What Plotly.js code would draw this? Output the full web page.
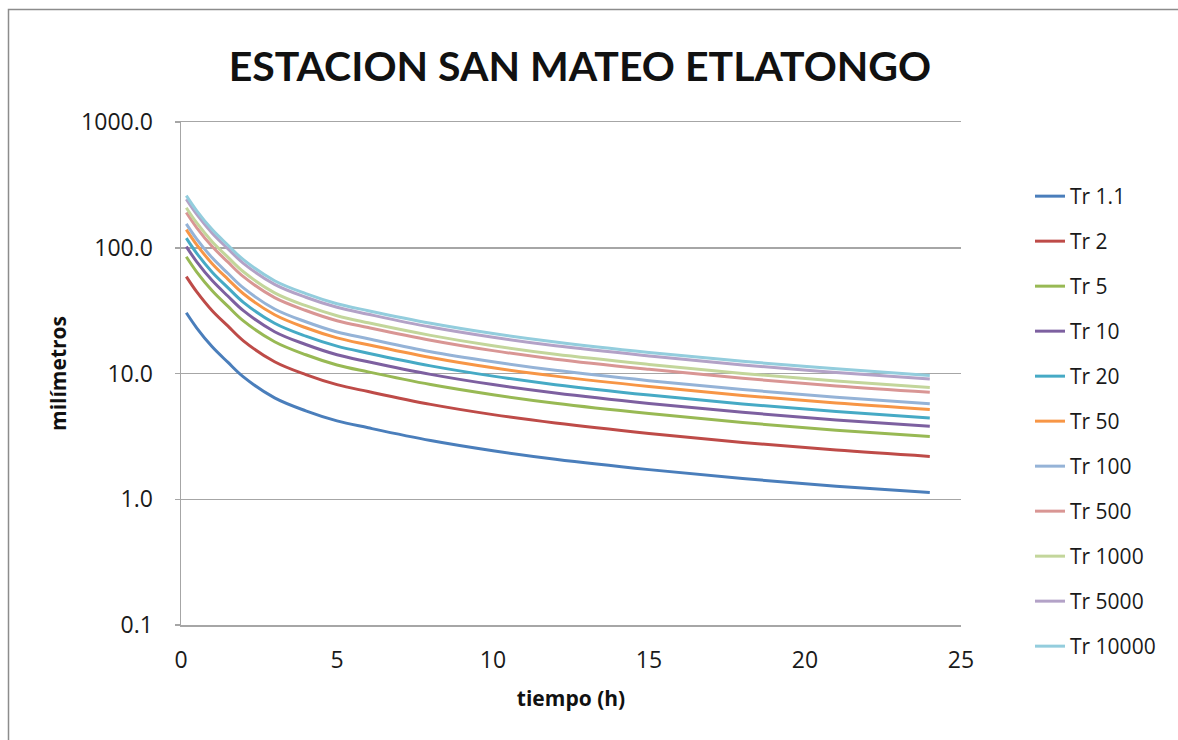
<!DOCTYPE html>
<html>
<head>
<meta charset="utf-8">
<script src="https://cdn.plot.ly/plotly-3.0.1.min.js"></script>
<style>
  html, body { margin: 0; padding: 0; background: #ffffff; }
  #chart { width: 1178px; height: 740px; }
</style>
</head>
<body>
<div id="chart"></div>
<script>
// duration in hours
const tiempo = [0.17, 0.5, 1, 1.5, 2, 3, 4, 5, 6, 8, 10, 12, 15, 18, 21, 24];

const tr1_1   = [30.4, 23.1, 16.3, 12.3, 9.4, 6.4, 5.05, 4.2, 3.7, 2.93, 2.43, 2.08, 1.72, 1.46, 1.27, 1.13];
const tr2     = [59.0, 44.8, 31.6, 23.9, 18.2, 12.4, 9.80, 8.15, 7.18, 5.68, 4.71, 4.04, 3.34, 2.83, 2.46, 2.19];
const tr5     = [84.8, 64.4, 45.5, 34.3, 26.2, 17.9, 14.1, 11.7, 10.3, 8.17, 6.78, 5.80, 4.80, 4.07, 3.54, 3.15];
const tr10    = [102.1, 77.6, 54.8, 41.3, 31.6, 21.5, 17.0, 14.1, 12.4, 9.84, 8.16, 6.99, 5.78, 4.91, 4.27, 3.80];
const tr20    = [119.2, 90.6, 63.9, 48.2, 36.8, 25.1, 19.8, 16.5, 14.5, 11.5, 9.53, 8.15, 6.74, 5.72, 4.98, 4.43];
const tr50    = [139.2, 105.8, 74.7, 56.3, 43.1, 29.3, 23.1, 19.2, 16.9, 13.4, 11.1, 9.53, 7.88, 6.69, 5.82, 5.18];
const tr100   = [155.0, 117.8, 83.1, 62.7, 47.9, 32.6, 25.8, 21.4, 18.9, 14.9, 12.4, 10.6, 8.77, 7.45, 6.48, 5.76];
const tr500   = [190.6, 144.8, 102.2, 77.1, 58.9, 40.1, 31.7, 26.3, 23.2, 18.4, 15.2, 13.0, 10.8, 9.15, 7.96, 7.09];
const tr1000  = [208.2, 158.2, 111.7, 84.3, 64.4, 43.8, 34.6, 28.8, 25.3, 20.1, 16.6, 14.2, 11.8, 10.0, 8.70, 7.74];
const tr5000  = [243.2, 184.8, 130.4, 98.4, 75.2, 51.2, 40.4, 33.6, 29.6, 23.4, 19.4, 16.6, 13.8, 11.7, 10.2, 9.04];
const tr10000 = [259.9, 197.5, 139.4, 105.2, 80.4, 54.7, 43.2, 35.9, 31.6, 25.1, 20.8, 17.8, 14.7, 12.5, 10.9, 9.66];

const seriesNames = ["Tr 1.1", "Tr 2", "Tr 5", "Tr 10", "Tr 20", "Tr 50", "Tr 100", "Tr 500", "Tr 1000", "Tr 5000", "Tr 10000"];
const seriesValues = [tr1_1, tr2, tr5, tr10, tr20, tr50, tr100, tr500, tr1000, tr5000, tr10000];
const seriesColors = ["#4A7EBB", "#BE4B48", "#98B954", "#7D60A0", "#46AAC5", "#F79646",
                      "#95B3D7", "#D99694", "#C3D69B", "#B3A2C7", "#93CDDD"];

const yTickVals = [0.1, 1, 10, 100, 1000];
const yTickText = ["0.1", "1.0", "10.0", "100.0", "1000.0"];
const xTickVals = [0, 5, 10, 15, 20, 25];

const FONT = "'Open Sans', 'Noto Sans', sans-serif";

const traces = seriesNames.map((name, i) => ({
  type: "scatter",
  mode: "lines",
  name: name,
  x: tiempo,
  y: seriesValues[i],
  legendgroup: "g" + i,
  line: { color: seriesColors[i], width: 3, shape: "spline", smoothing: 1 }
}));

// plot area: x 181..961, y 122..625
const L = 181, R = 961, T = 122, B = 625, W = 1178, H = 740;
const pw = R - L, ph = B - T;

const layout = {
  width: W, height: H,
  margin: { l: L, r: W - R, t: T, b: H - B, pad: 0 },
  paper_bgcolor: "#ffffff",
  plot_bgcolor: "#ffffff",
  font: { family: FONT, size: 22, color: "#1a1a1a" },
  title: {
    text: "<b>ESTACION SAN MATEO ETLATONGO</b>",
    font: { family: "Lato, 'Open Sans', sans-serif", size: 41, color: "#111111" },
    xref: "container", x: 580 / W, xanchor: "center",
    yref: "container", y: 1 - 67 / H, yanchor: "middle"
  },
  xaxis: {
    range: [0, 25],
    tickvals: xTickVals,
    ticktext: xTickVals.map(String),
    showgrid: false,
    zeroline: false,
    showline: true,
    mirror: true,
    linecolor: "#a6a6a6",
    linewidth: 1.5,
    ticks: "",
    ticklabelstandoff: 14,
    tickfont: { family: FONT, size: 23, color: "#1a1a1a" },
    title: { text: "<b>tiempo (h)</b>", font: { family: FONT, size: 21, color: "#111111" }, standoff: 17 }
  },
  yaxis: {
    type: "log",
    range: [-1, 3],
    tickvals: yTickVals,
    ticktext: yTickText,
    showgrid: true,
    gridcolor: "#a6a6a6",
    gridwidth: 1.5,
    zeroline: false,
    showline: true,
    linecolor: "#a6a6a6",
    linewidth: 1.5,
    ticks: "outside",
    ticklen: 5,
    tickcolor: "#a6a6a6",
    tickwidth: 1.5,
    ticklabelstandoff: 17,
    tickfont: { family: FONT, size: 23, color: "#1a1a1a" },
    title: { text: "<b>milímetros</b>", font: { family: FONT, size: 21, color: "#111111" }, standoff: 9 }
  },
  legend: {
    x: (1030 - L) / pw, xanchor: "left",
    y: 1 - (176 - T) / ph, yanchor: "top",
    font: { family: FONT, size: 21, color: "#1a1a1a" },
    tracegroupgap: 14.7,
    bgcolor: "rgba(0,0,0,0)",
    itemwidth: 30
  },
  showlegend: true,
  shapes: [{
    type: "rect", xref: "paper", yref: "paper",
    x0: (8.5 - L) / pw, x1: (W + 20 - L) / pw,
    y0: (B - (H + 20)) / ph, y1: (B - 9.5) / ph,
    line: { color: "#8c8c8c", width: 1.5 },
    fillcolor: "rgba(0,0,0,0)",
    layer: "below"
  }]
};

Plotly.newPlot("chart", traces, layout, { staticPlot: true, displayModeBar: false });
</script>
</body>
</html>
